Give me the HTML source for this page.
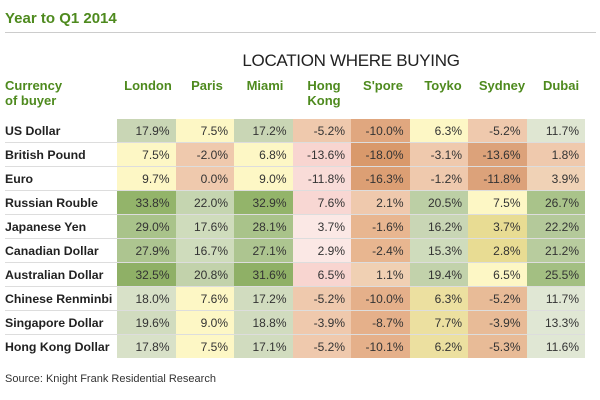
<!DOCTYPE html>
<html><head><meta charset="utf-8"><style>
body{margin:0;width:600px;height:400px;background:#fff;font-family:"Liberation Sans",Arial,sans-serif;position:relative;overflow:hidden}
.t{position:absolute;left:5px;top:10px;font-size:15px;font-weight:bold;color:#4e8a1e}
.hr{position:absolute;left:5px;top:32px;width:591px;height:1px;background:#ccc}
.loc{position:absolute;left:117px;width:468px;top:51px;text-align:center;font-size:17px;color:#222;letter-spacing:-0.3px}
.h{position:absolute;top:78px;font-size:13px;font-weight:bold;color:#4e8a1e;line-height:15px}
.ch{text-align:center;width:58px}
table{position:absolute;left:5px;top:119px;border-collapse:collapse;font-size:12px;color:#333}
td{height:23px;padding:0;border-bottom:1px solid #ddd}
td.l{width:112px;font-weight:bold;color:#222;font-size:12.3px}
td.v{width:58.5px;text-align:right;box-sizing:border-box;padding-right:6px}
tr:last-child td{border-bottom:none}
.s{position:absolute;left:5px;top:373px;font-size:11px;color:#333}
</style></head><body>
<div class="t">Year to Q1 2014</div>
<div class="hr"></div>
<div class="loc">LOCATION WHERE BUYING</div>
<div class="h" style="left:5px">Currency<br>of buyer</div>
<div class="h ch" style="left:119px">London</div>
<div class="h ch" style="left:178px">Paris</div>
<div class="h ch" style="left:236px">Miami</div>
<div class="h ch" style="left:295px">Hong<br>Kong</div>
<div class="h ch" style="left:354px">S'pore</div>
<div class="h ch" style="left:414px">Toyko</div>
<div class="h ch" style="left:473px">Sydney</div>
<div class="h ch" style="left:532px">Dubai</div>
<table>
<tr><td class="l">US Dollar</td><td class="v" style="background:#c9d6b5">17.9%</td><td class="v" style="background:#fdf7c5">7.5%</td><td class="v" style="background:#c9d6b5">17.2%</td><td class="v" style="background:#efc9ad">-5.2%</td><td class="v" style="background:#e0a77f">-10.0%</td><td class="v" style="background:#fdf7c5">6.3%</td><td class="v" style="background:#efc9ad">-5.2%</td><td class="v" style="background:#dfe6d2">11.7%</td></tr>
<tr><td class="l">British Pound</td><td class="v" style="background:#fdf7c5">7.5%</td><td class="v" style="background:#efc9ad">-2.0%</td><td class="v" style="background:#fdf7c5">6.8%</td><td class="v" style="background:#f8d5d0">-13.6%</td><td class="v" style="background:#d9996b">-18.0%</td><td class="v" style="background:#efc9ad">-3.1%</td><td class="v" style="background:#dca27a">-13.6%</td><td class="v" style="background:#efc9ad">1.8%</td></tr>
<tr><td class="l">Euro</td><td class="v" style="background:#fdf7c5">9.7%</td><td class="v" style="background:#efc9ad">0.0%</td><td class="v" style="background:#fdf7c5">9.0%</td><td class="v" style="background:#f9dcd8">-11.8%</td><td class="v" style="background:#dc9f74">-16.3%</td><td class="v" style="background:#efc9ad">-1.2%</td><td class="v" style="background:#dca27a">-11.8%</td><td class="v" style="background:#f0d2b6">3.9%</td></tr>
<tr><td class="l">Russian Rouble</td><td class="v" style="background:#93b46a">33.8%</td><td class="v" style="background:#c5d5b0">22.0%</td><td class="v" style="background:#93b46a">32.9%</td><td class="v" style="background:#f8d7d3">7.6%</td><td class="v" style="background:#efc9ad">2.1%</td><td class="v" style="background:#bccfa5">20.5%</td><td class="v" style="background:#fdf7c5">7.5%</td><td class="v" style="background:#a9c38a">26.7%</td></tr>
<tr><td class="l">Japanese Yen</td><td class="v" style="background:#a9c38a">29.0%</td><td class="v" style="background:#cfdcbc">17.6%</td><td class="v" style="background:#a9c38a">28.1%</td><td class="v" style="background:#fbe8e5">3.7%</td><td class="v" style="background:#e8b690">-1.6%</td><td class="v" style="background:#c9d6b5">16.2%</td><td class="v" style="background:#e8dc93">3.7%</td><td class="v" style="background:#b4c99a">22.2%</td></tr>
<tr><td class="l">Canadian Dollar</td><td class="v" style="background:#adc590">27.9%</td><td class="v" style="background:#cfdcbc">16.7%</td><td class="v" style="background:#adc590">27.1%</td><td class="v" style="background:#fbe8e5">2.9%</td><td class="v" style="background:#e8b690">-2.4%</td><td class="v" style="background:#cfdcbc">15.3%</td><td class="v" style="background:#e8dc93">2.8%</td><td class="v" style="background:#b8cc9e">21.2%</td></tr>
<tr><td class="l">Australian Dollar</td><td class="v" style="background:#8fb066">32.5%</td><td class="v" style="background:#c2d2ab">20.8%</td><td class="v" style="background:#8fb066">31.6%</td><td class="v" style="background:#f8d5d0">6.5%</td><td class="v" style="background:#f0d0b3">1.1%</td><td class="v" style="background:#c2d2ab">19.4%</td><td class="v" style="background:#fdf7c5">6.5%</td><td class="v" style="background:#a3bf82">25.5%</td></tr>
<tr><td class="l">Chinese Renminbi</td><td class="v" style="background:#d8e1c8">18.0%</td><td class="v" style="background:#fdf7c5">7.6%</td><td class="v" style="background:#d1dcbf">17.2%</td><td class="v" style="background:#efc9ad">-5.2%</td><td class="v" style="background:#e5b08a">-10.0%</td><td class="v" style="background:#ece0a0">6.3%</td><td class="v" style="background:#e8bb97">-5.2%</td><td class="v" style="background:#e0e7d4">11.7%</td></tr>
<tr><td class="l">Singapore Dollar</td><td class="v" style="background:#d1dcbf">19.6%</td><td class="v" style="background:#fdf7c5">9.0%</td><td class="v" style="background:#d1dcbf">18.8%</td><td class="v" style="background:#efc9ad">-3.9%</td><td class="v" style="background:#e5b08a">-8.7%</td><td class="v" style="background:#ece0a0">7.7%</td><td class="v" style="background:#e8bb97">-3.9%</td><td class="v" style="background:#e0e7d4">13.3%</td></tr>
<tr><td class="l">Hong Kong Dollar</td><td class="v" style="background:#d8e1c8">17.8%</td><td class="v" style="background:#fdf7c5">7.5%</td><td class="v" style="background:#d1dcbf">17.1%</td><td class="v" style="background:#efc9ad">-5.2%</td><td class="v" style="background:#e5b08a">-10.1%</td><td class="v" style="background:#ece0a0">6.2%</td><td class="v" style="background:#e8bb97">-5.3%</td><td class="v" style="background:#e0e7d4">11.6%</td></tr>
</table>
<div class="s">Source: Knight Frank Residential Research</div>
</body></html>
